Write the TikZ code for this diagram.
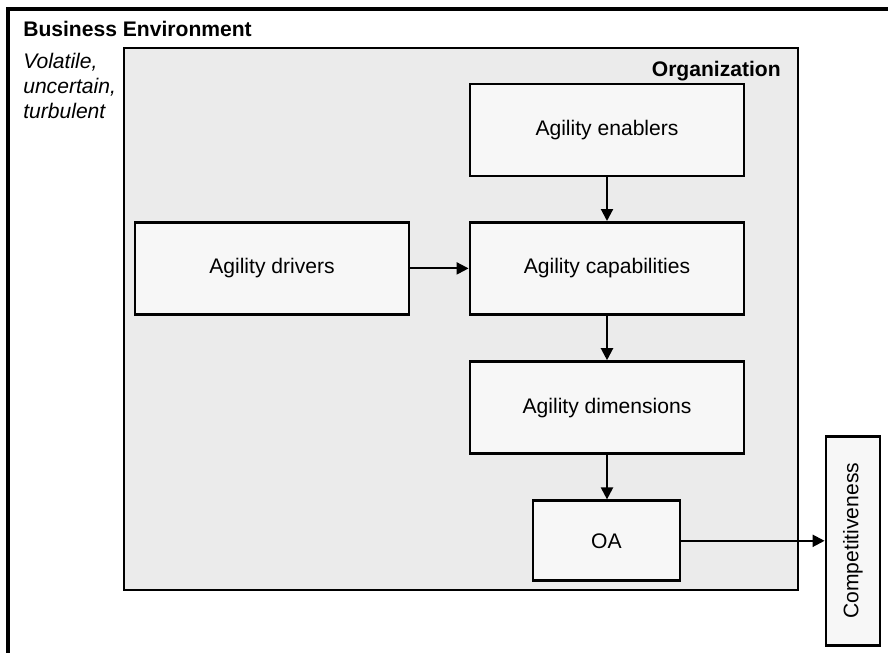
\documentclass[tikz,border=0pt]{standalone}
\usepackage{fontspec}
\setmainfont{Liberation Sans}
\usetikzlibrary{arrows.meta}
\definecolor{orgfill}{HTML}{EBEBEB}
\definecolor{boxfill}{HTML}{F7F7F7}
\tikzset{
 agbox/.style={draw, line width=2pt, fill=boxfill, inner sep=0pt,
   minimum width=6.85cm, minimum height=2.3cm, font=\fontsize{15}{18}\selectfont},
 link/.style={->, line width=1.5pt}
}
\begin{document}
\begin{tikzpicture}[>={Triangle[length=3mm,width=3mm]}]
 \useasboundingbox (0,0) rectangle (22.2,-16.3);
 \clip (0,0) rectangle (22.2,-16.3);
 % environment
 \draw[line width=2.8pt] (0.2,-0.225) rectangle (23,-17);
 \node[anchor=base west, inner sep=0pt, font=\fontsize{15}{18}\selectfont\bfseries] (envtitle) at (0.575,-0.9) {Business Environment};
 \node[anchor=north west, inner sep=0pt, align=left, font=\fontsize{15}{17.8}\selectfont\itshape] (envtext) at (0.575,-1.32) {Volatile,\\uncertain,\\turbulent};
 % organization
 \draw[line width=1.7pt, fill=orgfill] (3.1,-1.2) rectangle (19.95,-14.75);
 \node[anchor=base east, inner sep=0pt, font=\fontsize{15}{18}\selectfont\bfseries] (orgtitle) at (19.525,-1.9) {Organization};

 \node[agbox] (enablers) at (15.175,-3.25) {Agility enablers};
 \node[agbox] (capab) at (15.175,-6.71) {Agility capabilities};
 \node[agbox] (drivers) at (6.8,-6.71) {Agility drivers};
 \node[agbox] (dimens) at (15.175,-10.19) {Agility dimensions};
 \node[agbox, minimum width=3.675cm, minimum height=2cm] (oa) at (15.16,-13.52) {OA};
 \node[agbox, minimum width=5.225cm, minimum height=1.35cm, rotate=90] (compet) at (21.325,-13.52) {Competitiveness};

 \draw[link] (enablers) -- (capab);
 \draw[link] (drivers) -- (capab);
 \draw[link] (capab) -- (dimens);
 \draw[link] (dimens.south) -- (dimens.south |- oa.north);
 \draw[link] (oa) -- (compet);
\end{tikzpicture}
\end{document}
